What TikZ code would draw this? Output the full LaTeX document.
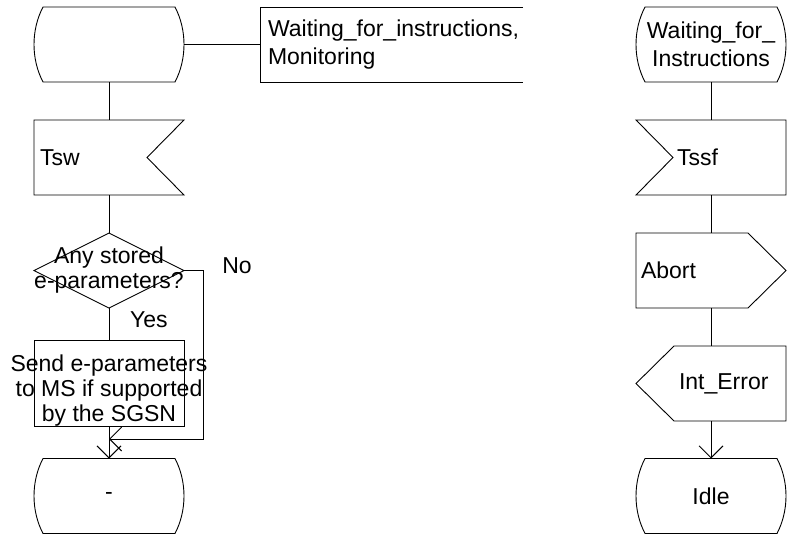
\documentclass[tikz,border=0pt]{standalone}
\usepackage{fontspec}
\setmainfont{Liberation Sans}
\usetikzlibrary{arrows.meta,calc}
\newcommand{\sdlfont}{\fontsize{23}{28}\selectfont}
\newcommand{\tightfont}{\fontsize{23}{25}\selectfont}
\newcommand{\ovr}[1]{\makebox[0pt]{#1}}
\tikzset{
  sdl/.style={minimum width=150pt, minimum height=75pt, inner sep=0pt, outer sep=0pt, font=\sdlfont, align=center},
  sdltxt/.style={sdl, text width=150pt, align=left},
  cmtbox/.style={sdl, minimum width=263pt, text width=247pt, align=left},
  lab/.style={font=\sdlfont, inner sep=0pt},
  link/.style={line width=0.9pt},
  flow/.style={link, -{Straight Barb[length=12pt,width=24pt,line width=0.9pt]}},
}
% SDL symbols drawn round a named node
\newcommand{\stateshape}[1]{%
  \draw[link] ([xshift=9pt]#1.north west) -- ([xshift=-9pt]#1.north east)
    .. controls ([xshift=3pt,yshift=-23pt]#1.north east) and ([xshift=3pt,yshift=23pt]#1.south east) .. ([xshift=-9pt]#1.south east)
    -- ([xshift=9pt]#1.south west)
    .. controls ([xshift=-3pt,yshift=23pt]#1.south west) and ([xshift=-3pt,yshift=-23pt]#1.north west) .. cycle;}
\newcommand{\inshapeR}[1]{%
  \draw[link] (#1.north west) -- (#1.north east) -- ([xshift=-37pt]#1.east) -- (#1.south east) -- (#1.south west) -- cycle;}
\newcommand{\inshapeL}[1]{%
  \draw[link] (#1.north west) -- (#1.north east) -- (#1.south east) -- (#1.south west) -- ([xshift=37pt]#1.west) -- cycle;}
\newcommand{\outshapeR}[1]{%
  \draw[link] (#1.north west) -- ([xshift=-38pt]#1.north east) -- (#1.east) -- ([xshift=-38pt]#1.south east) -- (#1.south west) -- cycle;}
\newcommand{\outshapeL}[1]{%
  \draw[link] (#1.west) -- ([xshift=38pt]#1.north west) -- (#1.north east) -- (#1.south east) -- ([xshift=38pt]#1.south west) -- cycle;}
\newcommand{\decshape}[1]{%
  \draw[link] (#1.west) -- (#1.north) -- (#1.east) -- (#1.south) -- cycle;}
\newcommand{\taskshape}[1]{\draw[link] (#1.north west) rectangle (#1.south east);}
\newcommand{\cmtshape}[1]{%
  \draw[link] (#1.north east) -- (#1.north west) -- (#1.south west) -- (#1.south east);}
\def\xL{109}
\def\xR{711}
\def\yA{44.5}
\def\yB{157.5}
\def\yC{270.5}
\def\yD{383.5}
\def\yE{496}
\begin{document}
\begin{tikzpicture}[x=1pt,y=-1pt]
  \useasboundingbox (0,0) rectangle (787,541);
  % left process
  \node[sdl] (start) at (\xL,\yA) {};
  \node[cmtbox, anchor=west] (cmt) at (260,\yA) {Waiting\_for\_instructions,\\Monitoring};
  \node[sdltxt] (tsw) at (\xL,\yB) {\hspace*{6pt}Tsw};
  \node[sdl, font=\tightfont] (stored) at (\xL,\yC) {\ovr{Any stored}\\\ovr{e-parameters?}};
  \node[sdl, font=\tightfont] (sendms) at (\xL,\yD) {\ovr{\rule{0pt}{30.5pt}Send e-parameters}\\\ovr{to MS if supported}\\\ovr{by the SGSN}};
  \node[sdl] (dash) at (\xL,\yE) {-};
  \node[lab, anchor=west] (yeslbl) at (130,320) {Yes};
  \node[lab] (nolbl) at (237,265.5) {No};
  \stateshape{start} \cmtshape{cmt} \inshapeR{tsw}
  \decshape{stored} \taskshape{sendms} \stateshape{dash}
  \coordinate (nojoin) at (\xL,439);
  \draw[link] (start) -- (cmt);
  \draw[link] (start) -- (tsw);
  \draw[link] (tsw) -- (stored);
  \draw[link] (stored) -- (sendms);
  \draw[flow] (sendms) -- (dash);
  \draw[flow] (stored.east) -- ++(19,0) |- (nojoin);
  % right process
  \node[sdl] (waitins) at (\xR,\yA) {Waiting\_for\_\\Instructions};
  \node[sdltxt] (tssf) at (\xR,\yB) {\hspace*{41pt}Tssf};
  \node[sdltxt] (abort) at (\xR,\yC) {\hspace*{5pt}Abort};
  \node[sdltxt] (interr) at (\xR,\yD) {\hspace*{43pt}Int\_Error};
  \node[sdl] (idle) at (\xR,\yE) {Idle};
  \stateshape{waitins} \inshapeL{tssf} \outshapeR{abort}
  \outshapeL{interr} \stateshape{idle}
  \draw[link] (waitins) -- (tssf);
  \draw[link] (tssf) -- (abort);
  \draw[link] (abort) -- (interr);
  \draw[flow] (interr) -- (idle);
\end{tikzpicture}
\end{document}
